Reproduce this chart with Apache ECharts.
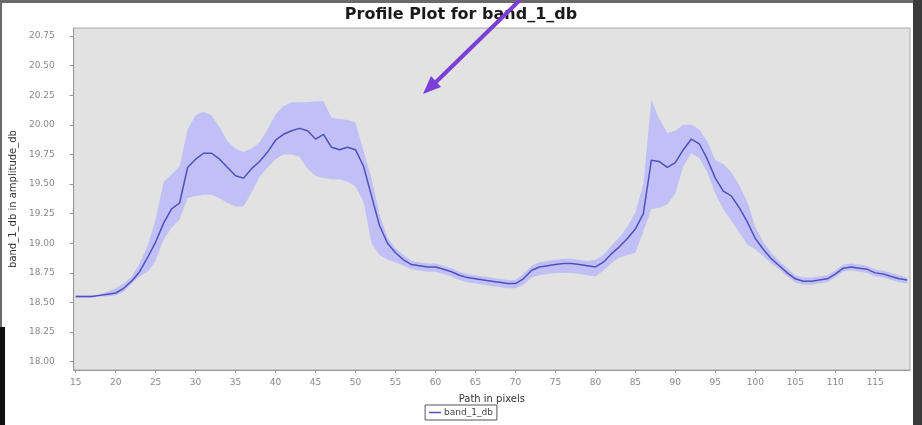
<!DOCTYPE html>
<html style="height: 100%">
    <head>
        <title>Profile Plot</title>
        <meta charset="utf-8">
    </head>
    <body style="height: 100%; margin: 0; background: #fff">
        <div id="container" style="width:922px;height:425px"></div>

        <script type="text/javascript" src="https://cdn.jsdelivr.net/npm/echarts@6/dist/echarts.min.js"></script>
        <script type="text/javascript">
// path position (pixels) along the profile
var xs = [];
for (var p = 15; p <= 119; p++) xs.push(p);

// mean value of band_1_db along the path
var meanVals = [
    18.55, 18.55, 18.55, 18.56, 18.57, 18.58, 18.62, 18.68, 18.76, 18.88,
    19.01, 19.17, 19.29, 19.34, 19.64, 19.71, 19.76, 19.76, 19.71, 19.64,
    19.57, 19.55, 19.63, 19.69, 19.77, 19.87, 19.92, 19.95, 19.97, 19.95,
    19.88, 19.92, 19.81, 19.79, 19.81, 19.79, 19.65, 19.40, 19.15, 19.00,
    18.92, 18.86, 18.82, 18.81, 18.80, 18.80, 18.78, 18.76, 18.73, 18.71,
    18.70, 18.69, 18.68, 18.67, 18.66, 18.66, 18.70, 18.77, 18.80, 18.81,
    18.82, 18.83, 18.83, 18.82, 18.81, 18.80, 18.84, 18.91, 18.97, 19.04,
    19.12, 19.25, 19.70, 19.69, 19.64, 19.68, 19.79, 19.88, 19.84, 19.71,
    19.55, 19.44, 19.40, 19.30, 19.18, 19.04, 18.95, 18.87, 18.81, 18.75,
    18.70, 18.68, 18.68, 18.69, 18.70, 18.74, 18.79, 18.80, 18.79, 18.78,
    18.75, 18.74, 18.72, 18.70, 18.69
];
// lower edge of the deviation band
var lowerVals = [
    18.54, 18.54, 18.54, 18.55, 18.55, 18.56, 18.59, 18.66, 18.72, 18.76,
    18.85, 19.03, 19.13, 19.20, 19.38, 19.40, 19.41, 19.41, 19.38, 19.34,
    19.31, 19.31, 19.43, 19.56, 19.64, 19.71, 19.75, 19.75, 19.73, 19.63,
    19.57, 19.55, 19.54, 19.54, 19.52, 19.48, 19.35, 19.00, 18.90, 18.86,
    18.84, 18.81, 18.78, 18.77, 18.76, 18.76, 18.74, 18.72, 18.69, 18.67,
    18.66, 18.65, 18.64, 18.63, 18.62, 18.62, 18.65, 18.71, 18.73, 18.74,
    18.75, 18.75, 18.75, 18.74, 18.73, 18.72, 18.77, 18.83, 18.88, 18.90,
    18.92, 19.10, 19.29, 19.30, 19.33, 19.42, 19.65, 19.76, 19.72, 19.60,
    19.42, 19.29, 19.19, 19.09, 18.99, 18.95, 18.89, 18.83, 18.78, 18.72,
    18.67, 18.65, 18.65, 18.66, 18.67, 18.71, 18.76, 18.77, 18.76, 18.75,
    18.72, 18.71, 18.69, 18.67, 18.66
];
// upper edge of the deviation band
var upperVals = [
    18.56, 18.56, 18.56, 18.57, 18.59, 18.62, 18.66, 18.72, 18.83, 18.98,
    19.20, 19.52, 19.58, 19.65, 19.96, 20.08, 20.11, 20.08, 19.98, 19.86,
    19.80, 19.77, 19.80, 19.85, 19.96, 20.09, 20.16, 20.19, 20.19, 20.19,
    20.20, 20.20, 20.06, 20.05, 20.04, 20.02, 19.78, 19.55, 19.25, 19.05,
    18.96, 18.90, 18.85, 18.84, 18.83, 18.83, 18.81, 18.79, 18.76, 18.74,
    18.73, 18.72, 18.71, 18.70, 18.69, 18.69, 18.74, 18.81, 18.84, 18.85,
    18.86, 18.87, 18.87, 18.86, 18.85, 18.86, 18.90, 18.98, 19.05, 19.14,
    19.26, 19.50, 20.21, 20.05, 19.93, 19.95, 20.00, 20.00, 19.96, 19.86,
    19.70, 19.67, 19.60, 19.49, 19.35, 19.14, 19.01, 18.92, 18.85, 18.79,
    18.73, 18.71, 18.71, 18.72, 18.73, 18.77, 18.82, 18.83, 18.82, 18.81,
    18.78, 18.77, 18.75, 18.73, 18.71
];

var yTicks = [18.00, 18.25, 18.50, 18.75, 19.00, 19.25, 19.50, 19.75, 20.00, 20.25, 20.50, 20.75];
var xTicks = [15, 20, 25, 30, 35, 40, 45, 50, 55, 60, 65, 70, 75, 80, 85, 90, 95, 100, 105, 110, 115];

var meanData = [];
for (var i = 0; i < xs.length; i++) {
    meanData.push([xs[i], meanVals[i]]);
}

// deviation band: one polygon, upper edge left to right then lower edge back
function renderBand(params, api) {
    if (params.dataIndex !== 0) return;
    var pts = [];
    for (var i = 0; i < xs.length; i++) pts.push(api.coord([xs[i], upperVals[i]]));
    for (var j = xs.length - 1; j >= 0; j--) pts.push(api.coord([xs[j], lowerVals[j]]));
    return {
        type: 'polygon',
        shape: {points: pts},
        style: {fill: '#c0c0f6'}
    };
}

var myChart = echarts.init(document.getElementById('container'));
var option = {
    animation: false,
    backgroundColor: '#fff',
    title: {
        text: 'Profile Plot for band_1_db',
        left: 'center',
        top: 2,
        textStyle: {fontFamily: 'DejaVu Sans', fontSize: 16, fontWeight: 'bold', color: '#1a1a1a'}
    },
    legend: {
        data: ['band_1_db'],
        left: 'center',
        bottom: 5,
        padding: [3, 4],
        borderColor: '#555',
        borderWidth: 1,
        icon: 'rect',
        itemWidth: 12,
        itemHeight: 1.5,
        itemGap: 4,
        textStyle: {fontFamily: 'DejaVu Sans', fontSize: 9, color: '#444', padding: [0, 0, 0, -2]}
    },
    grid: {
        left: 68, right: 12, top: 28, bottom: 55,
        show: true,
        backgroundColor: '#e2e2e2',
        borderColor: '#aaa',
        borderWidth: 1
    },
    xAxis: {
        type: 'value',
        min: 14.75,
        max: 119.35,
        name: 'Path in pixels',
        nameLocation: 'middle',
        nameGap: 24,
        nameTextStyle: {fontFamily: 'DejaVu Sans', fontSize: 10, color: '#333'},
        axisLine: {lineStyle: {color: '#999'}},
        axisTick: {show: true, length: 3, customValues: xTicks, lineStyle: {color: '#999'}},
        axisLabel: {customValues: xTicks, margin: 8, fontFamily: 'DejaVu Sans', fontSize: 9, color: '#888'},
        splitLine: {show: false}
    },
    yAxis: {
        type: 'value',
        min: 17.93,
        max: 20.8175,
        name: 'band_1_db in amplitude_db',
        nameLocation: 'middle',
        nameGap: 44,
        nameTextStyle: {fontFamily: 'DejaVu Sans', fontSize: 10, color: '#333'},
        axisLine: {show: true, lineStyle: {color: '#999'}},
        axisTick: {show: true, length: 4, customValues: yTicks, lineStyle: {color: '#999'}},
        axisLabel: {
            customValues: yTicks,
            margin: 19,
            fontFamily: 'DejaVu Sans',
            fontSize: 9,
            color: '#888',
            formatter: function (v) { return v.toFixed(2); }
        },
        splitLine: {show: false}
    },
    series: [{
        name: 'band',
        type: 'custom',
        data: [0],
        renderItem: renderBand,
        silent: true,
        z: 1
    }, {
        name: 'band_1_db',
        type: 'line',
        data: meanData,
        symbol: 'none',
        color: '#5050bc',
        lineStyle: {color: '#5050bc', width: 1.5},
        z: 5
    }],
    graphic: [
        // screenshot frame
        {type: 'rect', shape: {x: 0, y: 0, width: 922, height: 3}, style: {fill: '#6a6a6a'}},
        {type: 'rect', shape: {x: 0, y: 0, width: 2, height: 425}, style: {fill: '#6a6a6a'}},
        {type: 'rect', shape: {x: 0, y: 327, width: 5, height: 98}, style: {fill: '#111'}},
        {type: 'rect', shape: {x: 913, y: 0, width: 9, height: 425}, style: {fill: '#3a3a3a'}},
        // annotation arrow
        {type: 'line', shape: {x1: 520, y1: 0, x2: 436, y2: 82}, style: {stroke: '#7b3fd6', lineWidth: 4}, z: 100},
        {type: 'polygon', shape: {points: [[423, 94], [441, 87], [431, 76]]}, style: {fill: '#7b3fd6'}, z: 100}
    ]
};
myChart.setOption(option);
        </script>
    </body>
</html>
